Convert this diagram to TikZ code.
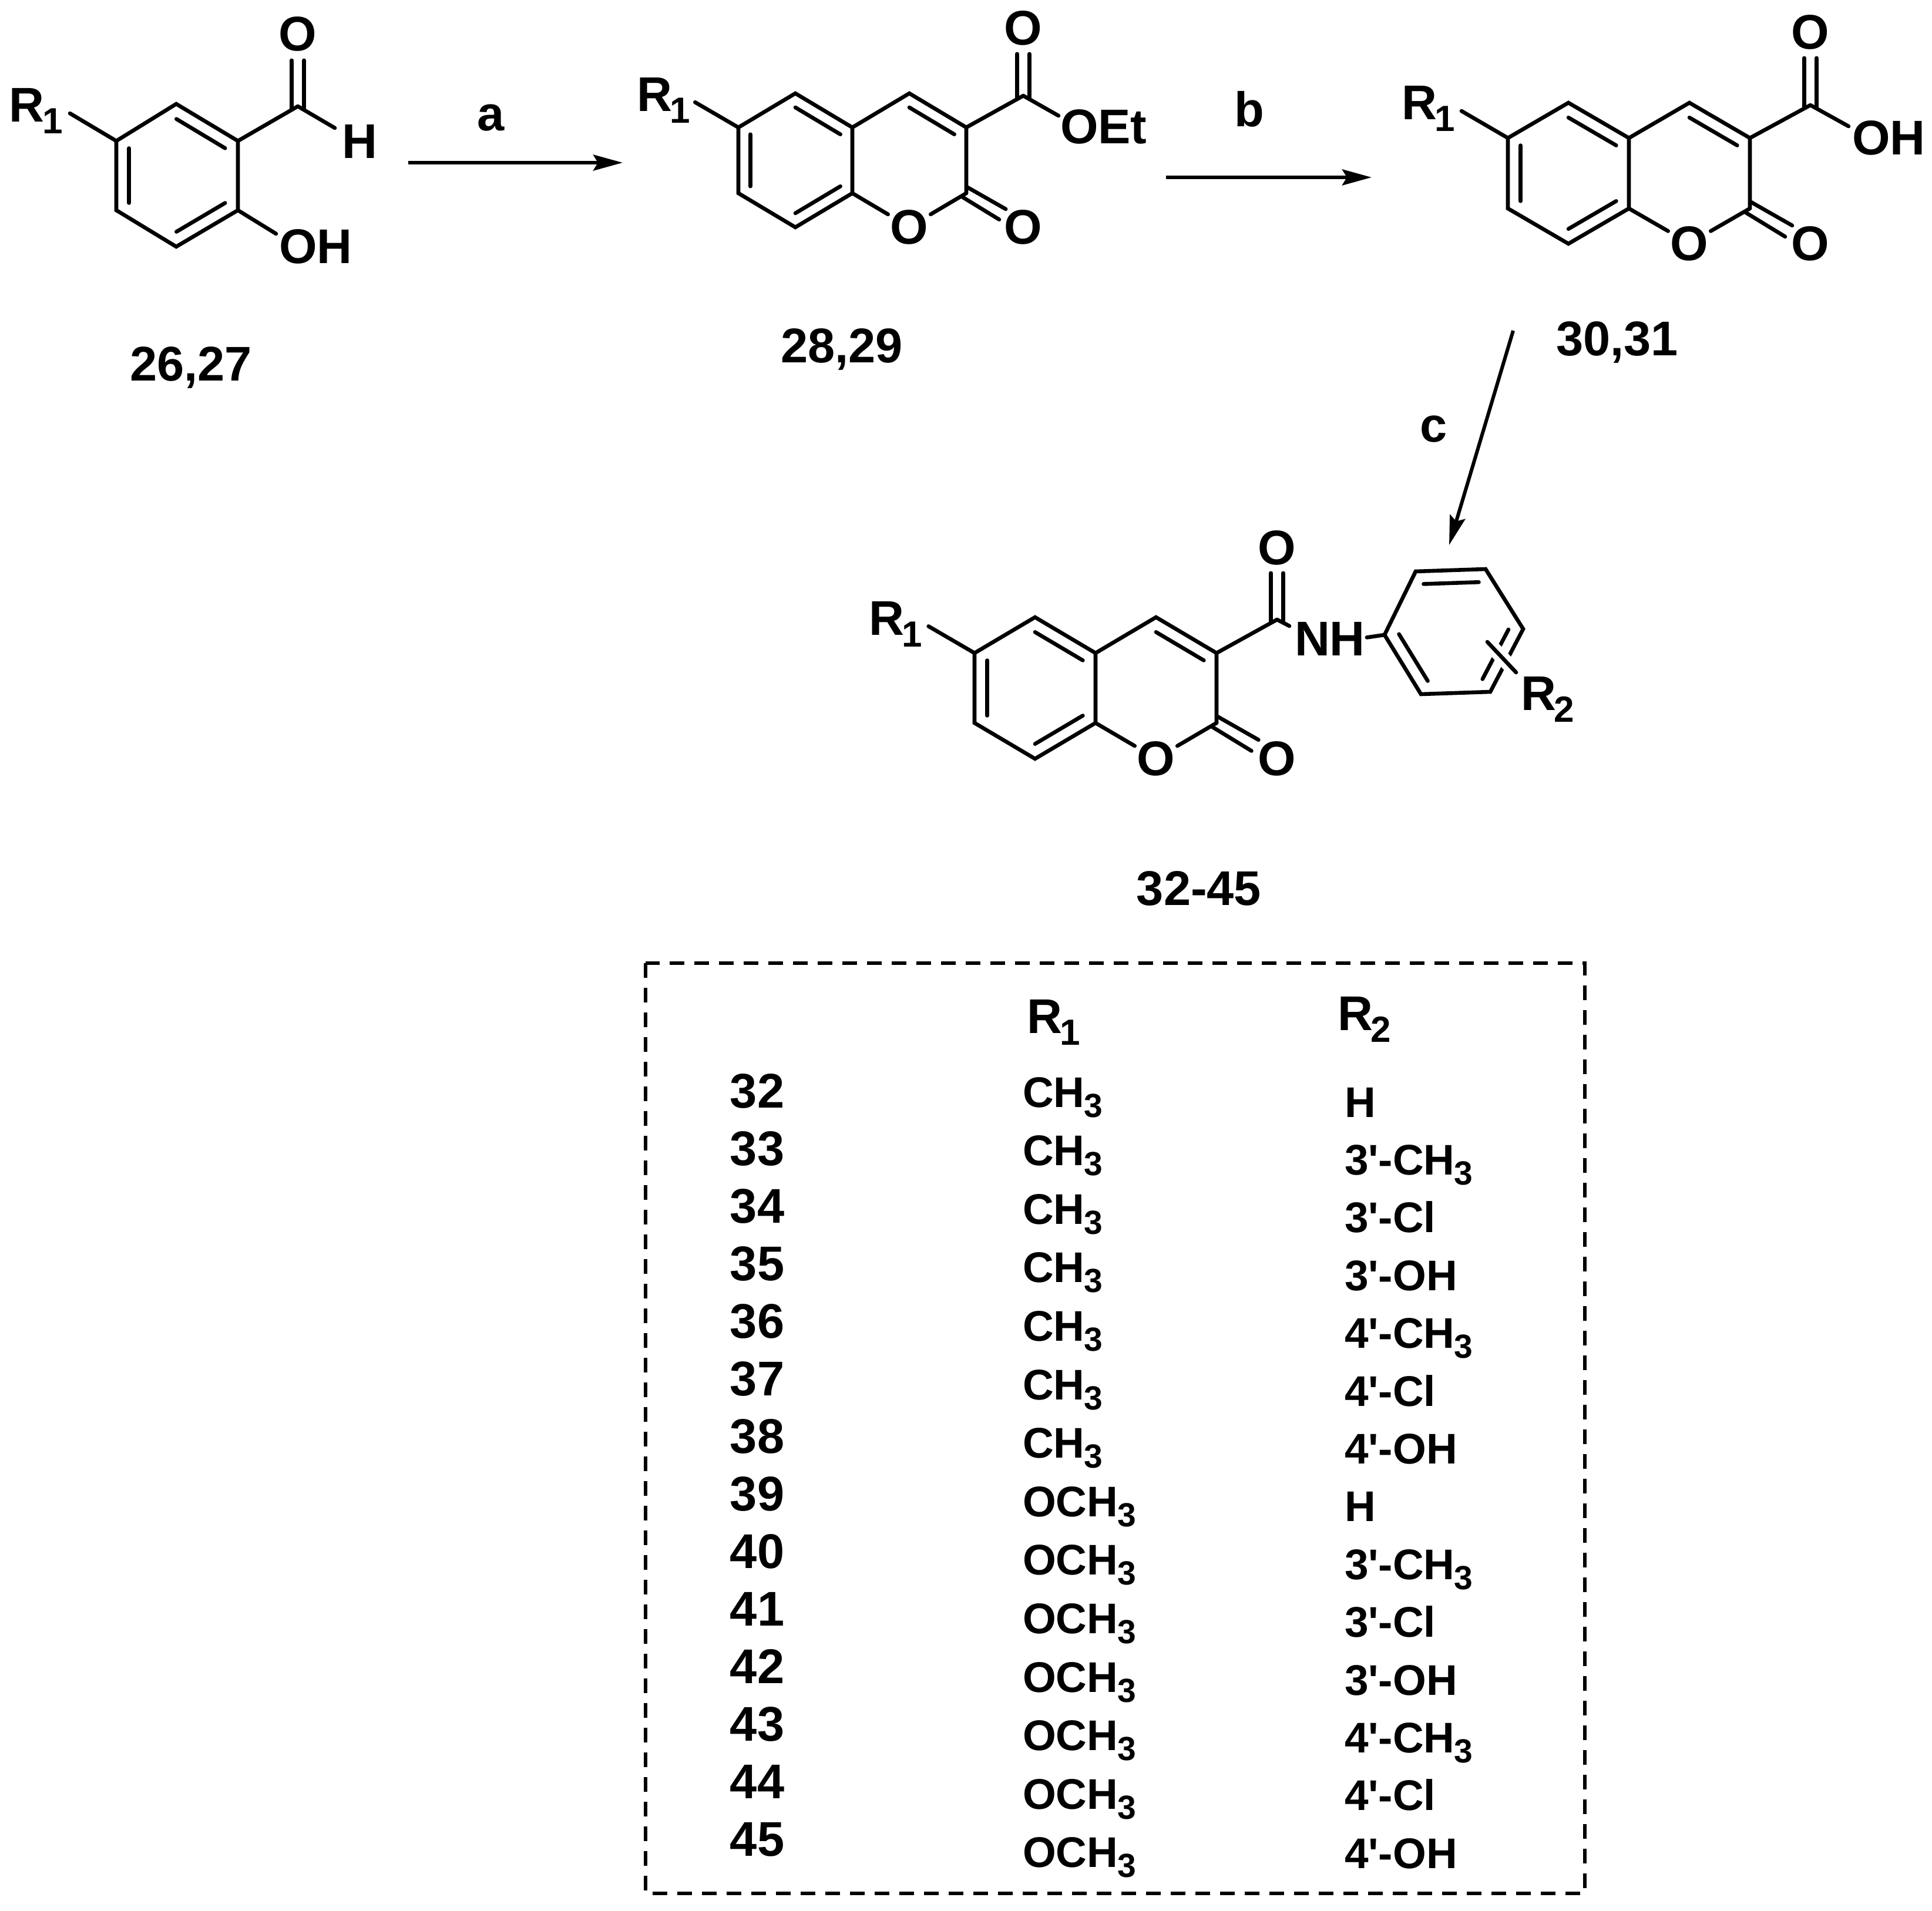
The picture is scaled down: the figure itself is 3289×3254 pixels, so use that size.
\documentclass[tikz,border=0pt]{standalone}
\usepackage{fontspec}
\newfontfamily\cf{Liberation Sans}
\usetikzlibrary{calc,arrows.meta}
\newcommand{\lsub}[1]{\kern-0.8pt\raisebox{-5pt}{\fontsize{15.5}{15.5}\selectfont #1}}
\newcommand{\tsub}[1]{\kern-0.3pt\raisebox{-4.25pt}{\fontsize{14.25}{14.25}\selectfont #1}}
\tikzset{
  bond/.style={line width=1.65pt,line cap=round,line join=miter,black},
  lab/.style={inner sep=0pt,outer sep=0pt,text=black,font=\cf\bfseries\fontsize{20.75}{20.75}\selectfont},
  ringo/.style={lab,inner sep=1pt},
  tlab/.style={inner sep=0pt,outer sep=0pt,text=black,anchor=base west,font=\cf\bfseries\fontsize{18.25}{18.25}\selectfont},
  rxn/.style={line width=1.5pt,black,-{Stealth[length=12.5pt,width=6.75pt,inset=2pt]}},
  dashbox/.style={line width=1.65pt,black,dash pattern=on 6.25pt off 4.25pt}
}
% #1 prefix, #2 x, #3 y of C6, #4 half ring width, #5 vertical bond, #6 rise, #7 baseline of exocyclic O
\newcommand{\coum}[7]{%
  \pgfmathsetmacro\cumS{#5/120}
  \coordinate (#1a6) at (#2,#3);
  \coordinate (#1a5) at ({#2+#4},{#3-#6});
  \coordinate (#1a4a) at ({#2+2*#4},#3);
  \coordinate (#1a8a) at ({#2+2*#4},{#3+#5});
  \coordinate (#1a8) at ({#2+#4},{#3+#5+#6});
  \coordinate (#1a7) at (#2,{#3+#5});
  \coordinate (#1a4) at ({#2+3*#4},{#3-#6});
  \coordinate (#1a3) at ({#2+4*#4},#3);
  \coordinate (#1a2) at ({#2+4*#4},{#3+#5});
  \coordinate (#1cA) at ({#2+#4},{#3+#5/2});
  \coordinate (#1cB) at ({#2+3*#4},{#3+#5/2});
  \coordinate (#1exo) at ({#2+5*#4},{#3-#6+4});
  \coordinate (#1Rend) at ({#2-79*\cumS},{#3-46*\cumS});
  \node[ringo,anchor=base] (#1O) at ({#2+3*#4},{#3+#5+#6+28}) {O};
  \node[lab,anchor=base] (#1Oc) at ({#2+5*#4},{#3+#5+#6+28}) {O};
  \node[lab,anchor=base] (#1Ot) at ({#2+5*#4},#7) {O};
  \draw[bond] (#1a6)--(#1a5)--(#1a4a)--(#1a8a)--(#1a8)--(#1a7)--cycle;
  \draw[bond] (#1a4a)--(#1a4)--(#1a3)--(#1a2);
  \draw[bond] ($(#1a5)!0.21!(#1cA)$)--($(#1a4a)!0.21!(#1cA)$);
  \draw[bond] ($(#1a6)!0.21!(#1cA)$)--($(#1a7)!0.21!(#1cA)$);
  \draw[bond] ($(#1a8)!0.21!(#1cA)$)--($(#1a8a)!0.21!(#1cA)$);
  \draw[bond] ($(#1a4)!0.21!(#1cB)$)--($(#1a3)!0.21!(#1cB)$);
  \draw[bond] (#1a8a)--(#1O);
  \draw[bond] (#1a2)--(#1O);
  \draw[bond] ([shift={(0,{-12*\cumS})}]#1a2)--([shift={({72*\cumS},{29*\cumS})}]#1a2);
  \draw[bond] ([shift={({-7*\cumS},{7*\cumS})}]#1a2)--([shift={({60*\cumS},{48*\cumS})}]#1a2);
  \draw[bond] (#1a3)--(#1exo);
  \draw[bond] ([shift={(-10.5,4)}]#1exo)--([shift={(-10.5,14)}]#1Ot.south);
  \draw[bond] ([shift={(10.5,4)}]#1exo)--([shift={(10.5,14)}]#1Ot.south);
  \draw[bond] (#1a6)--(#1Rend);
}
\begin{document}
\begin{tikzpicture}[x=0.25pt,y=-0.25pt]
\useasboundingbox (0,0) rectangle (3289,3254);

% --- molecule 26,27
\coordinate (ba) at (300,177);
\coordinate (bb) at (405,240);
\coordinate (bc) at (405,358);
\coordinate (bd) at (300,420);
\coordinate (be) at (198,358);
\coordinate (bf) at (198,240);
\coordinate (bcen) at (301.5,299);
\coordinate (bcho) at (507,181);
\coordinate (bRend) at (119,193);
\draw[bond] (ba)--(bb)--(bc)--(bd)--(be)--(bf)--cycle;
\draw[bond] ($(ba)!0.21!(bcen)$)--($(bb)!0.21!(bcen)$);
\draw[bond] ($(bc)!0.21!(bcen)$)--($(bd)!0.21!(bcen)$);
\draw[bond] ($(be)!0.21!(bcen)$)--($(bf)!0.21!(bcen)$);
\node[lab,anchor=base] (bO) at (507,87) {O};
\node[lab,anchor=base west] (bH) at (582,269) {H};
\node[lab,anchor=base west] (bOH) at (475,448) {OH};
\node[lab,anchor=base west] (bR) at (16,208) {R\lsub{1}};
\draw[bond] (bb)--(bcho);
\draw[bond] (bf)--(bRend);
\draw[bond] ([shift={(-10.5,4)}]bcho)--([shift={(-10.5,15)}]bO.south);
\draw[bond] ([shift={(10.5,4)}]bcho)--([shift={(10.5,15)}]bO.south);
\draw[bond] (bcho)--([shift={(-12,6)}]bH.north west);
\draw[bond] (bc)--([shift={(-5,8)}]bOH.north west);
\node[lab,anchor=base] (lb2627) at (325,648) {26,27};

% --- arrows a, b, c
\coordinate (aS) at (695,277);
\coordinate (aE) at (1060,277);
\draw[rxn] (aS)--(aE);
\node[lab,anchor=base] (la) at (836,223) {a};
\coordinate (bS) at (1985,302);
\coordinate (bE) at (2335,302);
\draw[rxn] (bS)--(bE);
\node[lab,anchor=base] (lbb) at (2127,216) {b};
\coordinate (cS) at (2576,563);
\coordinate (cE) at (2467,928);
\draw[rxn] (cS)--(cE);
\node[lab,anchor=base] (lc) at (2441,752) {c};

% --- molecule 28,29
\coum{m}{1257}{217}{97}{112}{58}{77}
\node[lab,anchor=base west] (mOEt) at (1805,245) {OEt};
\node[lab,anchor=base west] (mR) at (1084,190) {R\lsub{1}};
\draw[bond] (mexo)--([shift={(-3,10)}]mOEt.north west);
\node[lab,anchor=base] (lb2829) at (1433,617) {28,29};

% --- molecule 30,31
\coum{n}{2567}{235}{103}{120}{60}{84}
\node[lab,anchor=base west] (nOH) at (3153,264) {OH};
\node[lab,anchor=base west] (nR) at (2386,204) {R\lsub{1}};
\draw[bond] (nexo)--([shift={(-6,9)}]nOH.north west);
\node[lab,anchor=base] (lb3031) at (2753,605) {30,31};

% --- molecule 32-45
\coum{p}{1659}{1112}{103}{119}{61}{961}
\node[lab,anchor=base west] (pNH) at (2204,1116) {NH};
\node[lab,anchor=base west] (pR) at (1479,1081) {R\lsub{1}};
\node[lab,anchor=base west] (pR2) at (2589,1209) {R\lsub{2}};
\coordinate (qa) at (2357,1081);
\coordinate (qb) at (2410,973);
\coordinate (qc) at (2529,969);
\coordinate (qd) at (2593,1071);
\coordinate (qe) at (2537,1178);
\coordinate (qf) at (2419,1182);
\coordinate (qcen) at (2474,1075);
\coordinate (qs) at (2532,1093);
\coordinate (qt) at (2581,1145);
\draw[bond] (qa)--(qb)--(qc)--(qd)--(qe)--(qf)--cycle;
\draw[bond] ($(qa)!0.21!(qcen)$)--($(qf)!0.21!(qcen)$);
\draw[bond] ($(qb)!0.21!(qcen)$)--($(qc)!0.21!(qcen)$);
\draw[bond] ($(qd)!0.21!(qcen)$)--($(qe)!0.21!(qcen)$);
\draw[white,line width=6pt] (qs)--(qt);
\draw[bond] (qs)--(qt);
\draw[bond] (pexo)--([shift={(-9,7)}]pNH.north west);
\draw[bond] (qa)--([shift={(3,-2)}]pNH.east);
\node[lab,anchor=base] (lb3245) at (2041,1541) {32-45};

% --- table
\draw[dashbox] (1099,1640) rectangle (2698,3224);
\node[lab,anchor=base west] (hR1) at (1748,1759) {R\lsub{1}};
\node[lab,anchor=base west] (hR2) at (2277,1754) {R\lsub{2}};
\foreach \n [count=\i from 0] in {32,33,34,35,36,37,38,39,40,41,42,43,44,45}
  \node[lab,anchor=base] (num\n) at (1289,{1886+98*\i}) {\n};
\foreach \t [count=\i from 0] in {CH,CH,CH,CH,CH,CH,CH,OCH,OCH,OCH,OCH,OCH,OCH,OCH}
  \node[tlab] (ra\i) at (1741,{1885+99.6*\i}) {\t\tsub{3}};
\foreach \t [count=\i from 0] in {H,3'-CH\tsub{3},3'-Cl,3'-OH,4'-CH\tsub{3},4'-Cl,4'-OH,H,3'-CH\tsub{3},3'-Cl,3'-OH,4'-CH\tsub{3},4'-Cl,4'-OH}
  \node[tlab] (rb\i) at (2289,{1902+98.4*\i}) {\t};
\end{tikzpicture}
\end{document}
